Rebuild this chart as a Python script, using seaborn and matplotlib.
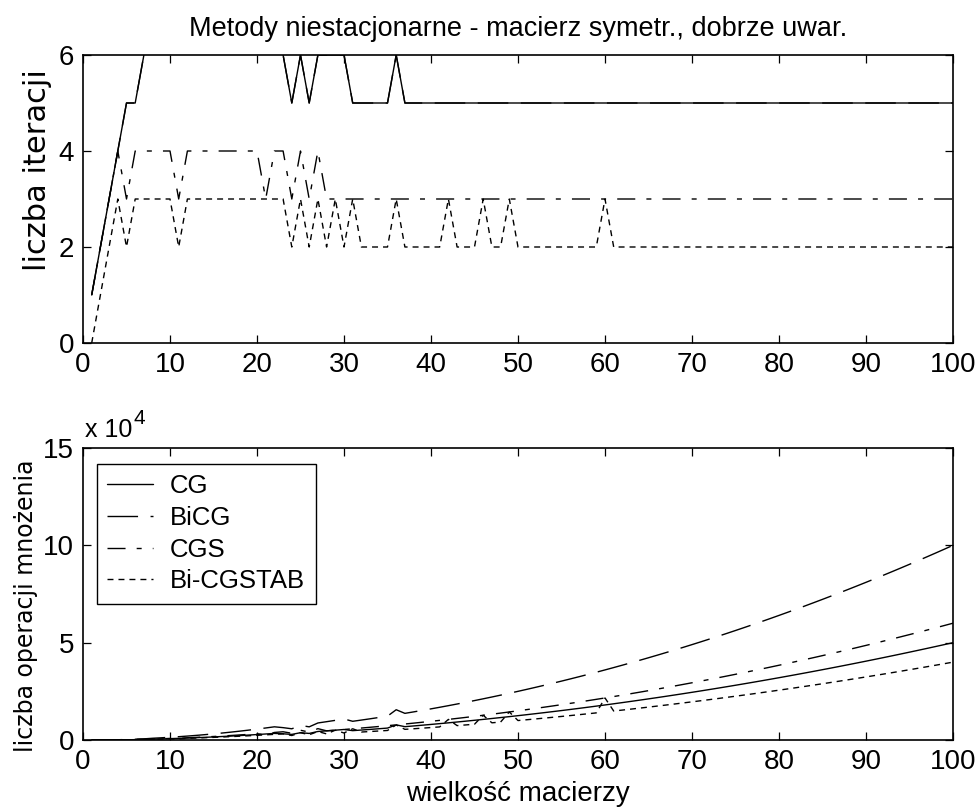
import numpy as np
import pandas as pd
import matplotlib
matplotlib.use('Agg')
import matplotlib.pyplot as plt
from matplotlib.ticker import FuncFormatter
import seaborn as sns

# matrix size
n = list(range(1, 101))

# number of iterations (CG values above 6 are clipped there)
iter_cg = [1, 2, 3, 4, 5, 5, 6] + [7] * 15 + [6, 5, 6, 5, 6, 6, 6, 6] + [5] * 5 + [6] + [5] * 64
iter_bicg = [1, 2, 3, 4, 5, 5, 6] + [7] * 15 + [6, 5, 6, 5, 6, 6, 6, 6] + [5] * 5 + [6] + [5] * 64
iter_cgs = [1, 2, 3, 4, 3] + [4] * 5 + [3] + [4] * 9 + [3, 4, 4, 3, 4, 3, 4] + [3] * 73
iter_bicgstab = ([0, 1, 2, 3, 2] + [3] * 5 + [2] + [3] * 12 + [2, 3, 2, 3, 2, 3, 2, 3]
                 + [2] * 4 + [3] + [2] * 5 + [3] + [2] * 3 + [3] + [2] * 2 + [3]
                 + [2] * 10 + [3] + [2] * 40)

# number of multiplications (bottom panel)
ops_cg = [1, 8, 27, 64, 125, 180, 294, 448, 567, 700,
          847, 1008, 1183, 1372, 1575, 1792, 2023, 2268, 2527, 2800,
          3087, 3388, 3174, 2880, 3750, 3380, 4374, 4704, 5046, 5400,
          4805, 5120, 5445, 5780, 6125, 7776, 6845, 7220, 7605, 8000,
          8405, 8820, 9245, 9680, 10125, 10580, 11045, 11520, 12005, 12500,
          13005, 13520, 14045, 14580, 15125, 15680, 16245, 16820, 17405, 18000,
          18605, 19220, 19845, 20480, 21125, 21780, 22445, 23120, 23805, 24500,
          25205, 25920, 26645, 27380, 28125, 28880, 29645, 30420, 31205, 32000,
          32805, 33620, 34445, 35280, 36125, 36980, 37845, 38720, 39605, 40500,
          41405, 42320, 43245, 44180, 45125, 46080, 47045, 48020, 49005, 50000]
ops_bicg = [2, 16, 54, 128, 250, 360, 588, 896, 1134, 1400,
            1694, 2016, 2366, 2744, 3150, 3584, 4046, 4536, 5054, 5600,
            6174, 6776, 6348, 5760, 7500, 6760, 8748, 9408, 10092, 10800,
            9610, 10240, 10890, 11560, 12250, 15552, 13690, 14440, 15210, 16000,
            16810, 17640, 18490, 19360, 20250, 21160, 22090, 23040, 24010, 25000,
            26010, 27040, 28090, 29160, 30250, 31360, 32490, 33640, 34810, 36000,
            37210, 38440, 39690, 40960, 42250, 43560, 44890, 46240, 47610, 49000,
            50410, 51840, 53290, 54760, 56250, 57760, 59290, 60840, 62410, 64000,
            65610, 67240, 68890, 70560, 72250, 73960, 75690, 77440, 79210, 81000,
            82810, 84640, 86490, 88360, 90250, 92160, 94090, 96040, 98010, 100000]
ops_cgs = [2, 16, 54, 128, 150, 288, 392, 512, 648, 800,
           726, 1152, 1352, 1568, 1800, 2048, 2312, 2592, 2888, 3200,
           2646, 3872, 4232, 3456, 5000, 4056, 5832, 4704, 5046, 5400,
           5766, 6144, 6534, 6936, 7350, 7776, 8214, 8664, 9126, 9600,
           10086, 10584, 11094, 11616, 12150, 12696, 13254, 13824, 14406, 15000,
           15606, 16224, 16854, 17496, 18150, 18816, 19494, 20184, 20886, 21600,
           22326, 23064, 23814, 24576, 25350, 26136, 26934, 27744, 28566, 29400,
           30246, 31104, 31974, 32856, 33750, 34656, 35574, 36504, 37446, 38400,
           39366, 40344, 41334, 42336, 43350, 44376, 45414, 46464, 47526, 48600,
           49686, 50784, 51894, 53016, 54150, 55296, 56454, 57624, 58806, 60000]
ops_bicgstab = [0, 8, 36, 96, 100, 216, 294, 384, 486, 600,
                484, 864, 1014, 1176, 1350, 1536, 1734, 1944, 2166, 2400,
                2646, 2904, 3174, 2304, 3750, 2704, 4374, 3136, 5046, 3600,
                5766, 4096, 4356, 4624, 4900, 7776, 5476, 5776, 6084, 6400,
                6724, 10584, 7396, 7744, 8100, 12696, 8836, 9216, 14406, 10000,
                10404, 10816, 11236, 11664, 12100, 12544, 12996, 13456, 13924, 21600,
                14884, 15376, 15876, 16384, 16900, 17424, 17956, 18496, 19044, 19600,
                20164, 20736, 21316, 21904, 22500, 23104, 23716, 24336, 24964, 25600,
                26244, 26896, 27556, 28224, 28900, 29584, 30276, 30976, 31684, 32400,
                33124, 33856, 34596, 35344, 36100, 36864, 37636, 38416, 39204, 40000]

methods = ['CG', 'BiCG', 'CGS', 'Bi-CGSTAB']

df = pd.DataFrame({
    'n': n * 4,
    'method': np.repeat(methods, len(n)),
    'iter': iter_cg + iter_bicg + iter_cgs + iter_bicgstab,
    'ops': ops_cg + ops_bicg + ops_cgs + ops_bicgstab,
})

# matlab-like line styles
dashes = {'CG': '', 'BiCG': (22, 9), 'CGS': (13, 8, 3.6, 8), 'Bi-CGSTAB': (4.3, 3.6)}

sns.set_theme(style='white', rc={'axes.edgecolor': 'black', 'text.color': 'black',
                                 'xtick.color': 'black', 'ytick.color': 'black',
                                 'axes.labelcolor': 'black'})
plt.rcParams['font.family'] = ['Liberation Sans', 'DejaVu Sans']

fig = plt.figure(figsize=(9.75, 8.09), dpi=100)
ax1 = fig.add_axes([83 / 975, 1 - 343 / 809, 870 / 975, 288 / 809])
ax2 = fig.add_axes([83 / 975, 1 - 740 / 809, 870 / 975, 292 / 809])

sns.lineplot(data=df, x='n', y='iter', style='method', style_order=methods,
             dashes=dashes, color='black', lw=1.0, estimator=None,
             legend=False, ax=ax1)
sns.lineplot(data=df, x='n', y='ops', style='method', style_order=methods,
             dashes=dashes, color='black', lw=1.0, estimator=None,
             legend=False, ax=ax2)

for ax in (ax1, ax2):
    ax.set_xlim(0, 100)
    ax.set_xticks(range(0, 101, 10))
    ax.tick_params(direction='in', length=6, width=0.9, top=True, right=True,
                   bottom=True, left=True, labelsize=20, pad=6.5, colors='black')
    for sp in ax.spines.values():
        sp.set_linewidth(1.2)
        sp.set_color('black')
    ax.set_xlabel('')
    ax.set_ylabel('')

ax1.set_ylim(0, 6)
ax1.set_yticks([0, 2, 4, 6])
ax1.set_title('Metody niestacjonarne - macierz symetr., dobrze uwar.',
              fontsize=19.5, pad=14)
ax1.set_ylabel('liczba iteracji', fontfamily='DejaVu Sans', fontsize=22)
ax1.yaxis.set_label_coords(-0.0356, 0.6)

ax2.set_ylim(0, 150000)
ax2.set_yticks([0, 50000, 100000, 150000])
ax2.yaxis.set_major_formatter(FuncFormatter(lambda v, p: '%d' % round(v / 1e4)))
ax2.set_ylabel('liczba operacji mnożenia', fontfamily='DejaVu Sans', fontsize=17)
ax2.yaxis.set_label_coords(-0.052, 0.46)
ax2.set_xlabel('wielkość macierzy', fontsize=20, labelpad=4)

fig.text(85 / 975, 1 - 437 / 809, 'x 10', fontsize=18, va='baseline')
fig.text(134 / 975, 1 - 424 / 809, '4', fontsize=15, va='baseline')

leg = ax2.legend(handles=ax2.lines[:4], labels=methods, loc='upper left',
                 bbox_to_anchor=(0.016, 0.945), borderaxespad=0, fontsize=18.5,
                 frameon=True, fancybox=False, shadow=False, framealpha=1,
                 edgecolor='black', handlelength=1.8, handletextpad=0.65,
                 borderpad=0.4, labelspacing=0.3)
leg.get_frame().set_linewidth(1.0)

fig.savefig('out.png', dpi=100, facecolor='white')
